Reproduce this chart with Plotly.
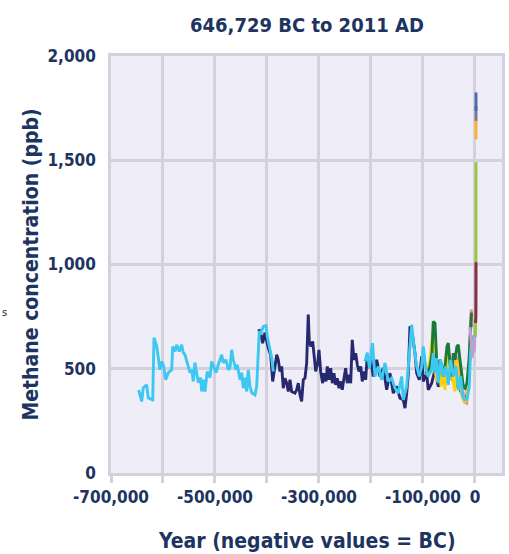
import plotly.graph_objects as go

# ---- data ----
epica1_years = [-646729, -641000, -637900, -631300, -628300, -619800, -617300, -612100, -605800, -602500,
                -599400, -594800, -589800, -583300, -581300, -576900, -573700, -568700, -564000, -561000,
                -557700, -551300, -548100, -544800, -541700, -538500, -535200, -532100, -527500, -525600,
                -522500, -519200, -514800, -509600, -506300, -503300, -498100, -493700, -487100, -484000,
                -478800, -474400, -471200, -467900, -464800, -459600, -457100, -451900, -448700, -445600,
                -442300, -439000, -436000, -432700, -429400, -423100, -419800, -414800, -411500, -407100,
                -401900, -399400, -394200, -391000, -387900]
epica1_ch4 = [399, 343, 409, 423, 360, 351, 649, 607, 495, 535,
              519, 447, 481, 495, 607, 583, 615, 583, 615, 577,
              567, 511, 481, 495, 439, 529, 481, 433, 457, 391,
              447, 391, 487, 457, 535, 511, 481, 519, 567, 529,
              543, 495, 505, 591, 543, 495, 519, 447, 481, 407,
              457, 391, 495, 415, 385, 375, 415, 679, 673, 703,
              707, 655, 591, 553, 487]

epica2_years = [-211500, -207100, -202900, -197100, -192300, -185900, -179400, -173100, -166700, -160200,
                -153800, -147500, -140900, -137900, -131300, -126300, -121700, -117300, -112100, -107100,
                -102500, -99400, -94200, -89800, -83300, -80200, -76900, -73700, -70600, -65900,
                -60900, -55800, -51300, -46700, -41700, -36500, -32100, -27500, -23700, -19200,
                -14800, -11000, -8700, -5800, -2000]
epica2_ch4 = [535, 577, 505, 623, 463, 511, 447, 527, 439, 455,
              407, 383, 463, 351, 415, 575, 711, 607, 511, 463,
              511, 607, 495, 463, 495, 575, 479, 551, 431, 543,
              463, 511, 423, 543, 463, 511, 399, 463, 367, 351,
              359, 415, 575, 640, 660]

vostok_years = [-416700, -413500, -408300, -403800, -397500, -392900, -389000, -384600, -381300, -378300,
                -375000, -371700, -368700, -365400, -362100, -359000, -355800, -352500, -346200, -342900,
                -339800, -336500, -333300, -330200, -326900, -323700, -320600, -318700, -315400, -312100,
                -309600, -306300, -302500, -300000, -296700, -292900, -290400, -286500, -284000, -280800,
                -277500, -274400, -271200, -267900, -264800, -261500, -258300, -255200, -251900, -248700,
                -245600, -242300, -239000, -236000, -232700, -229400, -226300, -223100, -219800, -216700,
                -213500, -210200, -207100, -203800, -200600, -197500, -195600, -189000, -182700, -176300,
                -169800, -163500, -157100, -150600, -144200, -137900, -134600, -131300, -128300, -125000,
                -119800, -115400, -112100, -107100, -102500, -99400, -92900, -89800, -83300, -76900,
                -70600, -63500, -55800, -48100, -38500, -28800, -21200, -15400, -9600]
vostok_ch4 = [679, 687, 623, 673, 599, 567, 439, 511, 567, 543,
              487, 511, 407, 455, 431, 391, 447, 391, 383, 399,
              431, 375, 343, 447, 455, 527, 760, 631, 607, 631,
              575, 487, 527, 591, 487, 431, 479, 439, 511, 447,
              503, 431, 479, 423, 455, 407, 439, 399, 455, 503,
              431, 471, 431, 639, 543, 575, 519, 487, 511, 439,
              487, 447, 567, 503, 551, 487, 463, 543, 463, 503,
              399, 479, 383, 415, 359, 351, 311, 383, 471, 703,
              655, 575, 479, 447, 559, 439, 479, 399, 431, 495,
              415, 450, 440, 470, 430, 400, 360, 370, 560]

pink_years = [-60000, -52000, -45000, -40000, -34000, -30000, -25000, -20000, -16000, -12000, -9000, -7000, -5000]
pink_ch4 = [470, 590, 520, 470, 560, 500, 420, 340, 335, 450, 700, 784, 700]

green_years = [-96200, -90400, -86500, -82700, -80200, -76900, -73700, -70600, -67300, -63500,
               -60900, -57700, -53800, -51300, -48100, -44200, -41700, -38500, -34600, -32100,
               -28800, -25600, -22500, -19200, -15400, -11500, -8300, -6700]
green_ch4 = [479, 487, 511, 575, 727, 719, 543, 479, 543, 511,
             463, 511, 607, 623, 527, 463, 575, 543, 607, 615,
             543, 463, 415, 407, 431, 543, 687, 769]

yellow_years = [-94200, -86500, -83300, -80200, -76900, -73100, -69200, -65400, -60900, -57700,
                -53800, -50000, -46200, -42300, -38500, -34600, -30800, -26900, -23100, -19200,
                -15400, -11500, -7700]
yellow_ch4 = [470, 540, 623, 687, 495, 439, 519, 415, 487, 399,
              575, 447, 495, 447, 391, 543, 415, 399, 351, 343,
              359, 463, 639]

purple_years = [-9600, -7500, -5000, -3500, -2000, -800, 0]
purple_ch4 = [700, 620, 553, 640, 580, 600, 700]

steel_years = [0, 500, 1000]
steel_ch4 = [700, 720, 770]

lime_years = [1000, 1200, 1400, 1600, 1850, 1920, 1950, 1978]
lime_ch4 = [654, 680, 700, 720, 800, 1000, 1250, 1490]

maroon_years = [1000, 1300, 1600, 1800, 1880, 1920]
maroon_ch4 = [735, 720, 740, 790, 850, 1011]

orange_years = [1984, 1990, 2000, 2011]
orange_ch4 = [1601, 1650, 1680, 1697]

gray_years = [1984, 1995, 2011]
gray_ch4 = [1690, 1720, 1760]

blue_years = [1984, 1995, 2011]
blue_ch4 = [1737, 1780, 1825]

x_tickvals = [-700000, -600000, -500000, -400000, -300000, -200000, -100000, 0]
x_ticktext = ["-700,000", "", "-500,000", "", "-300,000", "", "-100,000", "0"]
y_tickvals = [0, 500, 1000, 1500, 2000]
y_ticktext = ["0", "500", "1,000", "1,500", "2,000"]

NAVY_TXT = "#1D3461"
FONT = "DejaVu Sans Condensed, Liberation Sans Narrow, sans-serif"
GRID = "#D3D1DB"

series = [
    (vostok_years, vostok_ch4, "#27296E"),
    (epica1_years, epica1_ch4, "#3CC8F0"),
    (pink_years, pink_ch4, "#F08A8A"),
    (yellow_years, yellow_ch4, "#FFD200"),
    (green_years, green_ch4, "#1A7A3A"),
    (epica2_years, epica2_ch4, "#3CC8F0"),
    (purple_years, purple_ch4, "#B9A2D2"),
    (steel_years, steel_ch4, "#A9CCD9"),
    (lime_years, lime_ch4, "#9BC53D"),
    (maroon_years, maroon_ch4, "#8B2A55"),
    (orange_years, orange_ch4, "#F8B133"),
    (gray_years, gray_ch4, "#6E7A94"),
    (blue_years, blue_ch4, "#4A69B0"),
]

fig = go.Figure()
for xs, ys, col in series:
    fig.add_trace(go.Scatter(x=xs, y=ys, mode="lines",
                             line=dict(color=col, width=2.9), showlegend=False,
                             hoverinfo="skip"))

fig.update_layout(
    width=509, height=554,
    margin=dict(l=111, r=7, t=56, b=81, autoexpand=False),
    paper_bgcolor="white",
    plot_bgcolor="#EFEDF7",
    font=dict(family=FONT, color=NAVY_TXT),
)
fig.update_xaxes(
    range=[-700000, 52000], tickvals=x_tickvals,
    ticktext=[f"<b>{t}</b>" if t else "" for t in x_ticktext],
    showgrid=True, gridcolor=GRID, gridwidth=2.5,
    showline=True, linecolor=GRID, linewidth=2.5, mirror=True,
    ticks="outside", ticklen=7, tickwidth=2.5, tickcolor=GRID,
    tickfont=dict(family=FONT, size=17, color=NAVY_TXT),
    zeroline=False, automargin=False,
)
fig.update_yaxes(
    range=[0, 2000], tickvals=y_tickvals, ticktext=[f"<b>{t}</b>" for t in y_ticktext],
    showgrid=True, gridcolor=GRID, gridwidth=2.5,
    showline=True, linecolor=GRID, linewidth=2.5, mirror=True,
    ticks="", ticklabelstandoff=9,
    tickfont=dict(family=FONT, size=17, color=NAVY_TXT),
    zeroline=False, automargin=False,
)

# chart title and axis titles (placed to match the reference)
fig.add_annotation(text="<b>646,729 BC to 2011 AD</b>", xref="paper", yref="paper",
                   x=0.501, y=1.074, xanchor="center", yanchor="middle", showarrow=False,
                   font=dict(family=FONT, size=20, color=NAVY_TXT))
fig.add_annotation(text="<b>Year (negative values = BC)</b>", xref="paper", yref="paper",
                   x=0.501, y=-0.163, xanchor="center", yanchor="middle", showarrow=False,
                   font=dict(family=FONT, size=21, color=NAVY_TXT))
fig.add_annotation(text="<b>Methane concentration (ppb)</b>", xref="paper", yref="paper",
                   x=-0.207, y=0.50, xanchor="center", yanchor="middle", showarrow=False,
                   textangle=-90, font=dict(family=FONT, size=21, color=NAVY_TXT))
fig.add_annotation(text="s", xref="paper", yref="paper", x=-0.283, y=0.386,
                   xanchor="left", yanchor="middle", showarrow=False,
                   font=dict(family="DejaVu Sans", size=10, color="#222222"))

fig.write_html("out.html", config={"displayModeBar": False},
               post_script="document.body.style.margin='0';document.body.style.overflow='hidden';")
